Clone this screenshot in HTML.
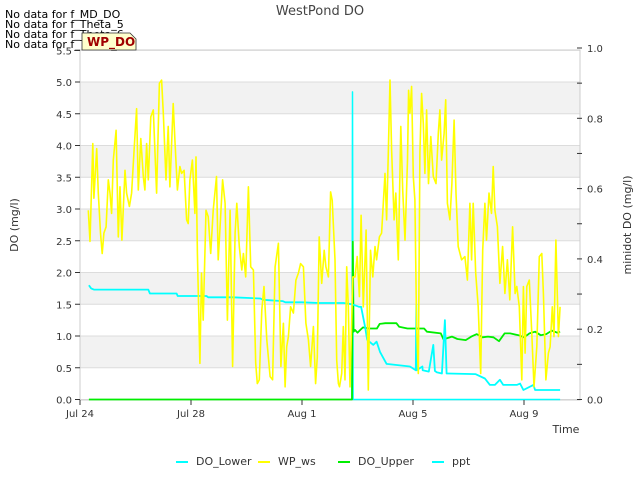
<!DOCTYPE html>
<html><head><meta charset="utf-8"><style>
body{margin:0;background:#fff;font-family:"Liberation Sans","DejaVu Sans",sans-serif;}
svg text{font-family:"DejaVu Sans","Liberation Sans",sans-serif;}
</style></head><body>
<svg id="chart" width="640" height="480" viewBox="0 0 640 480">
<g id="bands"></g>
<g id="grid"></g>
<rect x="80" y="50" width="500" height="350" fill="none" stroke="#cccccc"/>
<g id="series"></g>
<g id="axes"></g>
<text x="320" y="15" text-anchor="middle" font-size="13" fill="#444">WestPond DO</text>
<text transform="translate(18,225) rotate(-90)" text-anchor="middle" font-size="11" fill="#333">DO (mg/l)</text>
<text transform="translate(631,225) rotate(-90)" text-anchor="middle" font-size="11" fill="#333">minidot DO (mg/l)</text>
<text x="566" y="433" text-anchor="middle" font-size="11" fill="#333">Time</text>
<g font-size="11" fill="#000">
<text x="5" y="18">No data for f_MD_DO</text>
<text x="5" y="28">No data for f_Theta_5</text>
<text x="5" y="38">No data for f_Theta_6</text>
<text x="5" y="48">No data for f_Theta_7</text>
</g>
<g>
<path d="M82,33 L130,33 L136,39 L136,50 L82,50 Z" fill="#ffffcc" stroke="#333" stroke-width="0.8"/>
<text x="87" y="46" font-size="12" font-weight="bold" fill="#a00000">WP_DO</text>
</g>
<g id="legend"></g>
</svg>
<script>
// ---- data (days since Jul 24) ----
const xTickLabels=["Jul 24","Jul 28","Aug 1","Aug 5","Aug 9"];
const xTickDays=[0,4,8,12,16];
const yTicks=[0,0.5,1,1.5,2,2.5,3,3.5,4,4.5,5,5.5];
const y2Ticks=[0,0.2,0.4,0.6,0.8,1.0];
const wsDays=[0.30,0.36,0.46,0.50,0.60,0.66,0.74,0.80,0.86,0.94,1.02,1.08,1.14,1.20,1.30,1.38,1.44,1.51,1.62,1.68,1.78,1.86,1.95,2.04,2.10,2.19,2.28,2.34,2.40,2.46,2.55,2.64,2.76,2.86,2.94,3.00,3.10,3.18,3.24,3.36,3.42,3.51,3.60,3.66,3.75,3.84,3.90,3.96,4.05,4.14,4.18,4.23,4.32,4.38,4.44,4.54,4.62,4.71,4.80,4.92,4.98,5.04,5.14,5.23,5.31,5.41,5.50,5.59,5.65,5.74,5.83,5.89,5.97,6.07,6.15,6.25,6.33,6.39,6.46,6.55,6.63,6.73,6.85,6.94,7.03,7.15,7.24,7.33,7.39,7.45,7.51,7.59,7.69,7.78,7.87,7.95,8.05,8.14,8.23,8.31,8.41,8.49,8.55,8.62,8.71,8.80,8.86,8.95,9.03,9.09,9.19,9.25,9.31,9.35,9.43,9.49,9.55,9.61,9.67,9.73,9.83,9.91,9.99,10.07,10.13,10.21,10.31,10.39,10.47,10.55,10.63,10.69,10.79,10.87,10.93,10.99,11.05,11.11,11.17,11.23,11.32,11.38,11.47,11.56,11.63,11.71,11.80,11.84,11.89,11.95,12.01,12.07,12.13,12.19,12.25,12.31,12.37,12.43,12.49,12.56,12.64,12.73,12.83,12.91,12.97,13.03,13.12,13.18,13.24,13.33,13.40,13.48,13.55,13.63,13.75,13.87,13.96,14.05,14.11,14.17,14.26,14.35,14.44,14.51,14.59,14.65,14.74,14.83,14.89,14.95,15.04,15.13,15.23,15.31,15.40,15.49,15.59,15.68,15.74,15.83,15.92,15.98,16.04,16.10,16.19,16.28,16.36,16.46,16.55,16.64,16.70,16.79,16.88,16.94,17.02,17.08,17.15,17.24,17.30];
const wsValues=[2.98,2.49,4.03,3.17,3.95,3.25,2.62,2.30,2.62,2.72,3.46,3.25,2.93,3.77,4.24,2.56,3.35,2.51,3.61,3.25,3.04,3.25,3.93,4.58,3.30,4.11,3.51,3.30,4.03,3.46,4.45,4.56,3.25,4.98,5.03,4.51,3.46,4.30,3.35,4.66,4.09,3.30,3.67,3.56,3.61,2.83,2.77,3.46,3.77,2.93,3.82,2.30,0.57,1.99,1.25,2.98,2.88,2.30,2.98,3.51,2.20,2.67,3.46,3.09,1.25,2.98,0.52,2.62,3.09,2.41,2.04,2.30,1.93,3.35,2.09,2.04,0.57,0.25,0.31,1.41,1.78,0.94,0.36,0.31,2.09,2.46,0.52,1.20,0.20,0.83,0.99,1.46,1.36,1.88,1.99,2.14,2.09,1.20,0.94,0.52,1.15,0.25,0.67,2.56,1.83,2.35,2.09,1.93,3.27,3.14,2.20,0.62,0.25,0.20,0.41,1.15,0.31,2.09,1.46,0.20,1.93,1.93,2.25,1.62,2.90,1.46,2.67,0.15,2.35,1.93,2.41,2.20,2.56,2.62,3.09,3.56,2.83,3.88,5.03,3.93,2.83,3.25,2.20,4.30,3.30,2.51,3.77,4.87,4.51,4.93,3.51,3.14,1.15,0.41,3.88,4.82,4.35,3.56,4.56,3.40,4.14,3.51,3.40,4.19,4.56,3.77,4.19,4.72,3.09,2.83,3.40,4.40,3.25,2.41,2.20,2.25,1.88,3.09,2.20,3.09,1.99,1.46,0.41,2.35,3.09,2.51,3.25,2.93,3.67,2.98,2.72,1.83,2.41,1.67,2.20,1.57,2.72,1.67,1.78,1.46,0.31,1.78,0.73,1.78,1.88,1.04,0.20,0.83,2.25,2.30,1.67,0.31,0.73,0.83,1.46,0.99,2.51,0.99,1.46];
const lowDays=[0.32,0.40,0.50,1.00,2.00,2.46,2.52,3.00,3.48,3.52,4.00,4.56,4.62,5.50,6.00,6.50,6.60,7.30,7.40,8.00,8.60,9.00,9.50,9.80,10.00,10.05,10.13,10.27,10.35,10.57,10.69,10.81,11.05,11.89,12.10,12.12,12.13,12.34,12.35,12.57,12.73,12.79,12.85,13.04,13.15,13.21,13.27,14.25,14.59,14.77,14.95,15.13,15.25,15.74,15.86,15.98,16.34,16.40,17.30];
const lowValues=[1.80,1.75,1.73,1.73,1.73,1.73,1.67,1.67,1.67,1.63,1.63,1.63,1.61,1.61,1.60,1.59,1.57,1.55,1.53,1.53,1.52,1.52,1.52,1.50,1.47,1.46,1.46,1.15,0.94,0.86,0.91,0.75,0.56,0.52,0.46,1.50,0.46,0.52,0.46,0.44,0.86,0.45,0.43,0.41,1.25,0.41,0.41,0.40,0.33,0.23,0.23,0.31,0.23,0.23,0.25,0.15,0.23,0.15,0.15];
const upDays=[0.32,9.80,9.83,9.86,9.91,10.0,10.1,10.2,10.4,10.7,10.8,11.0,11.4,11.5,11.8,12.0,12.4,12.5,13.0,13.1,13.4,13.6,13.9,14.1,14.3,14.5,14.7,14.9,15.1,15.3,15.5,15.8,16.0,16.2,16.4,16.6,16.8,17.0,17.2,17.30];
const upValues=[0,0,0.449,0.193,0.198,0.190,0.198,0.205,0.202,0.202,0.215,0.217,0.217,0.207,0.202,0.202,0.202,0.193,0.188,0.171,0.179,0.172,0.169,0.179,0.186,0.177,0.179,0.177,0.166,0.188,0.188,0.183,0.177,0.188,0.193,0.183,0.186,0.196,0.190,0.193];
const pptDays=[9.80,9.82,9.84,17.30];
const pptValues=[0,0.875,0,0];

const NS="http://www.w3.org/2000/svg";
const X0=80,DAYPX=27.75;
const xs=d=>X0+d*DAYPX;
const yL=v=>399.5-v*63.5;
const yR=v=>399.5-v*351.5;
function mk(tag,attrs,parent){const e=document.createElementNS(NS,tag);for(const k in attrs)e.setAttribute(k,attrs[k]);parent.appendChild(e);return e;}
const bands=document.getElementById('bands'),grid=document.getElementById('grid'),axes=document.getElementById('axes'),series=document.getElementById('series'),legend=document.getElementById('legend');
// bands
for(let i=0;i<yTicks.length-1;i++){
  if(i%2===1){const r=mk('rect',{x:80,y:yL(yTicks[i+1]),width:500,height:yL(yTicks[i])-yL(yTicks[i+1]),fill:'#f2f2f2'},bands);
  
  }
}
yTicks.forEach(v=>{
  const l=mk('line',{x1:80,x2:580,y1:yL(v),y2:yL(v),stroke:'#dcdcdc','stroke-width':1},grid);
  
  
  const t=mk('line',{x1:75,x2:80,y1:yL(v),y2:yL(v),stroke:'#333'},axes);
  
  
  const tx=mk('text',{x:72,y:yL(v)+4,'text-anchor':'end','font-size':10,fill:'#333'},axes);
  tx.textContent=v.toFixed(1);
  
  
});
for(let i=0;i<=10;i++){
  const v=i/10;
  const t=mk('line',{x1:577,x2:582,y1:yR(v),y2:yR(v),stroke:'#333'},axes);
  
  
}
y2Ticks.forEach(v=>{
  const tx=mk('text',{x:587,y:yR(v)+4,'font-size':10,fill:'#333'},axes);
  tx.textContent=v.toFixed(1);
  
  
});
xTickDays.forEach((d,i)=>{
  const t=mk('line',{x1:xs(d),x2:xs(d),y1:400,y2:405,stroke:'#333'},axes);
  
  
  const tx=mk('text',{x:xs(d),y:417,'text-anchor':'middle','font-size':10,fill:'#333'},axes);
  tx.textContent=xTickLabels[i];
  
  
});
function line(days,vals,yf,color,w,name){
  const p=days.map((d,i)=>(i?'L':'M')+xs(d).toFixed(1)+','+yf(vals[i]).toFixed(1)).join('');
  const e=mk('path',{d:p,fill:'none',stroke:color,'stroke-width':w,'stroke-linejoin':'round'},series);
  
  
}
line(pptDays,pptValues,yR,'#00ffff',1.5,'series-ppt');
line(upDays,upValues,yR,'#00ee00',1.8,'series-do-upper');
line(lowDays,lowValues,yL,'#00ffff',1.8,'series-do-lower');
line(wsDays,wsValues,yL,'#ffff00',1.6,'series-wp-ws');
// legend
const legItems=[["DO_Lower","#00ffff",176],["WP_ws","#ffff00",258],["DO_Upper","#00ee00",338],["ppt","#00ffff",432]];
legItems.forEach(it=>{
  const g=mk('g',{},legend);
  
  
  mk('line',{x1:it[2],x2:it[2]+12,y1:462,y2:462,stroke:it[1],'stroke-width':2},g);
  const t=mk('text',{x:it[2]+20,y:465,'font-size':11,fill:'#333'},g);
  t.textContent=it[0];
});
</script>
</body></html>
